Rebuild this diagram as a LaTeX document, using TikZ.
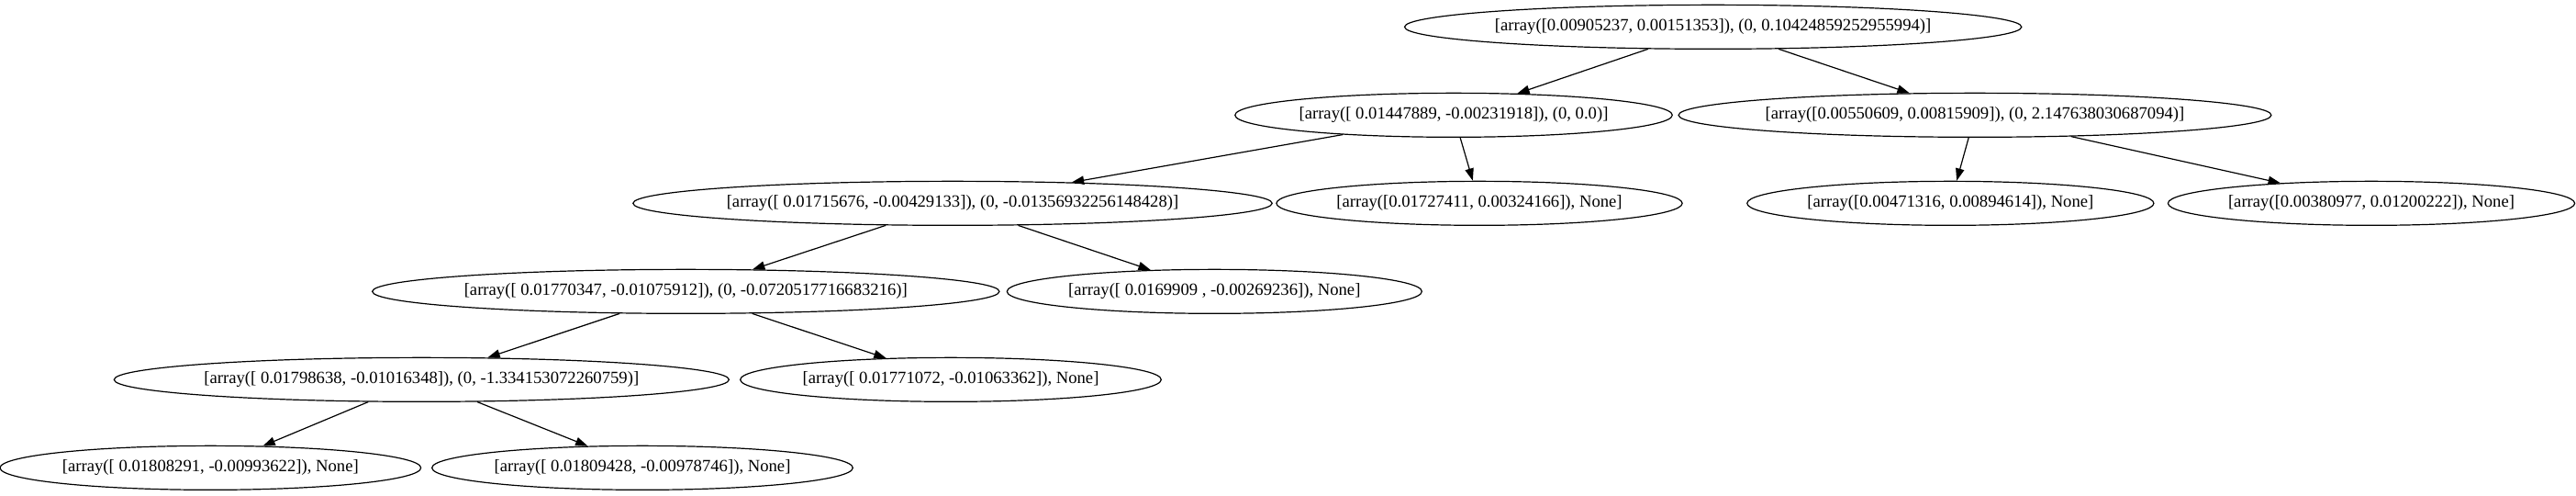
\documentclass[tikz,border=0pt]{standalone}
\usepackage{fontspec}
\setmainfont{Liberation Serif}
\usetikzlibrary{shapes.geometric, arrows.meta}

\begin{document}
\begin{tikzpicture}[x=1pt, y=1pt,
    every node/.style={ellipse, draw, line width=0.9pt, minimum height=36pt,
        inner xsep=1pt, inner ysep=2pt, font=\fontsize{14}{16}\selectfont},
    split/.style={inner xsep=0pt},
    leaf/.style={inner xsep=0.5pt},
    edge/.style={line width=0.9pt, -{Triangle[length=10pt, width=7pt]}},
    ]
\useasboundingbox (0,0) rectangle (2105.25,-404.25);
% tree nodes, one row per depth
\node[split] (n0) at (1400,-22) {[array([0.00905237, 0.00151353]), (0, 0.10424859252955994)]};
\node[split] (n1) at (1188,-94) {[array([ 0.01447889, -0.00231918]), (0, 0.0)]};
\node[split] (n2) at (1614,-94) {[array([0.00550609, 0.00815909]), (0, 2.147638030687094)]};
\node[split] (n3) at (778.5,-166) {[array([ 0.01715676, -0.00429133]), (0, -0.01356932256148428)]};
\node[leaf] (n4) at (1209,-166) {[array([0.01727411, 0.00324166]), None]};
\node[leaf] (n5) at (1594,-166) {[array([0.00471316, 0.00894614]), None]};
\node[leaf] (n6) at (1938,-166) {[array([0.00380977, 0.01200222]), None]};
\node[split] (n7) at (560.5,-238) {[array([ 0.01770347, -0.01075912]), (0, -0.0720517716683216)]};
\node[leaf] (n8) at (992.5,-238) {[array([ 0.0169909 , -0.00269236]), None]};
\node[split] (n9) at (344.5,-310) {[array([ 0.01798638, -0.01016348]), (0, -1.334153072260759)]};
\node[leaf] (n10) at (777,-310) {[array([ 0.01771072, -0.01063362]), None]};
\node[leaf] (n11) at (172,-382) {[array([ 0.01808291, -0.00993622]), None]};
\node[leaf] (n12) at (525,-382) {[array([ 0.01809428, -0.00978746]), None]};
% edges
\foreach \a/\b in {n0/n1, n0/n2, n1/n3, n1/n4, n2/n5, n2/n6, n3/n7, n3/n8, n7/n9, n7/n10, n9/n11, n9/n12}
    \draw[edge] (\a) -- (\b);
\end{tikzpicture}
\end{document}
